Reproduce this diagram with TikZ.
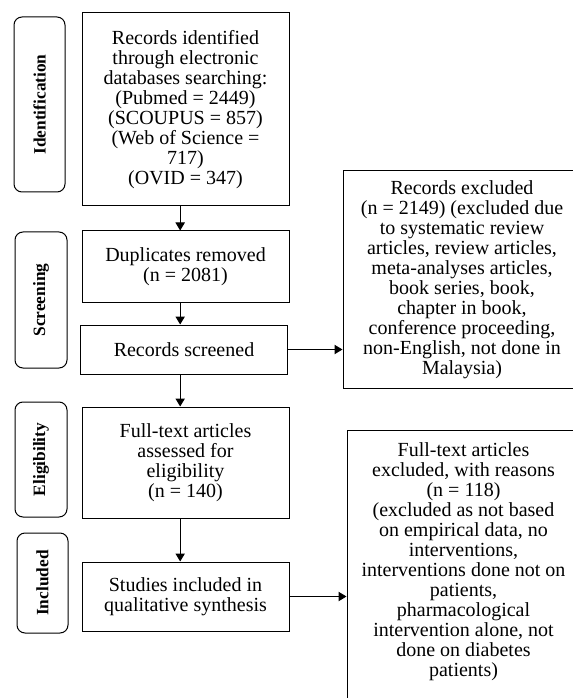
\documentclass[tikz,border=0pt]{standalone}
\usepackage{fontspec}
\setmainfont{Liberation Serif}
\usetikzlibrary{arrows.meta}

\begin{document}
\begin{tikzpicture}[
		x=0.75pt, y=-0.75pt,
		line width=0.75pt,
		>={Triangle[length=6pt,width=7pt]},
		stage/.style={draw, rounded corners=6pt, rotate=90, inner sep=0pt, font=\fontsize{13}{13}\selectfont\bfseries}, % cot ben trai
		flowbox/.style={draw, align=center, inner sep=0pt, minimum width=155.25pt, font=\fontsize{15}{15}\selectfont},
		sidebox/.style={draw, align=center, inner sep=0pt, font=\fontsize{15}{15}\selectfont},
		sidetext/.style={align=center, inner sep=0pt, font=\fontsize{15}{15}\selectfont},
		link/.style={->}
		]
		\useasboundingbox (0,0) rectangle (573,698);
		\clip (0,0) rectangle (573,698);
		
		% cac giai doan
		\node[stage, minimum width=131.25pt, minimum height=38.25pt] (idf) at (39.5,104.5) {Identification};
		\node[stage, minimum width=102pt, minimum height=39pt] (scrn) at (41,300) {Screening};
		\node[stage, minimum width=86.25pt, minimum height=39pt] (elig) at (41,459.5) {Eligibility};
		\node[stage, minimum width=75pt, minimum height=38.25pt] (inc) at (42.5,583) {Included};
		
		% cot giua
		\node[flowbox, minimum height=144.75pt] (rec) at (185.5,109.5) {Records identified\\ through electronic\\ databases searching:\\ (Pubmed = 2449)\\ (SCOUPUS = 857)\\ (Web of Science =\\ 717)\\ (OVID = 347)};
		\node[flowbox, minimum height=53.25pt] (dup) at (185.5,266.5) {Duplicates removed\\ (n = 2081)};
		\node[flowbox, minimum height=36.75pt] (scr) at (184,349.5) {Records screened};
		\node[flowbox, minimum height=83.25pt] (full) at (185.5,462.5) {Full-text articles\\ assessed for\\ eligibility\\ (n = 140)};
		\node[flowbox, minimum height=51.75pt] (incl) at (185.5,596.5) {Studies included in\\ qualitative synthesis};
		
		% cot phai
		\node[sidebox, minimum width=178.5pt, minimum height=164pt] (exc) at (462,279.5) {Records excluded\\ (n = 2149) (excluded due\\ to systematic review\\ articles, review articles,\\ meta-analyses articles,\\ book series, book,\\ chapter in book,\\ conference proceeding,\\ non-English, not done in\\ Malaysia)};
		\node[sidebox, minimum width=174.75pt, minimum height=210pt] (ftx) at (463.5,570) {};
		\node[sidetext] (ftxt) at (463.5,561.5) {Full-text articles\\ excluded, with reasons\\ (n = 118)\\ (excluded as not based\\ on empirical data, no\\ interventions,\\ interventions done not on\\ patients,\\ pharmacological\\ intervention alone, not\\ done on diabetes\\ patients)};
		
		% mui ten
		\draw[link] ([xshift=-4pt]rec.south) -- ([xshift=-4pt]rec.south |- dup.north);
		\draw[link] ([xshift=-4pt]dup.south) -- ([xshift=-4pt]dup.south |- scr.north);
		\draw[link] ([xshift=-4pt]dup.south |- scr.south) -- ([xshift=-4pt]dup.south |- full.north);
		\draw[link] ([xshift=-4pt]full.south) -- ([xshift=-4pt]full.south |- incl.north);
		\draw[link] (scr.east) -- (scr.east -| exc.west);
		\draw[link] (incl.east) -- (incl.east -| ftx.west);
	\end{tikzpicture}
\end{document}
